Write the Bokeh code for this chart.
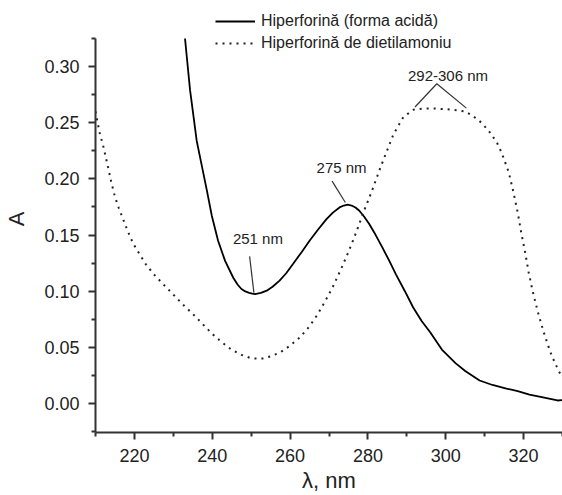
from bokeh.plotting import figure
from bokeh.models import (Range1d, FixedTicker, NumeralTickFormatter, Legend, LegendItem)
from bokeh.core.properties import value
from bokeh.embed import file_html
from bokeh.resources import INLINE

# ---- data ----
acid_x = [233.0, 234.3, 236.0, 237.3, 238.6, 239.9, 241.5, 243.3, 245.4, 246.5, 247.5, 248.5,
          249.5, 250.3, 251.0, 252.5, 254.0, 255.5, 257.3, 259.0, 260.7, 263.0, 265.0, 267.2,
          269.3, 271.0, 272.7, 273.8, 274.8, 275.8, 276.8, 277.8, 279.0, 280.3, 282.0, 283.7,
          285.5, 287.2, 289.5, 291.6, 293.8, 296.0, 299.0, 302.5, 305.0, 308.7, 312.0, 315.6,
          318.5, 321.5, 325.0, 328.7, 330.0]
acid_y = [0.325, 0.279, 0.234, 0.212, 0.190, 0.167, 0.145, 0.127, 0.112, 0.106, 0.102, 0.0998,
          0.0985, 0.0978, 0.0975, 0.0985, 0.1005, 0.104, 0.1094, 0.116, 0.124, 0.135, 0.145, 0.155,
          0.164, 0.170, 0.1746, 0.1763, 0.177, 0.1763, 0.1745, 0.1717, 0.1665, 0.160, 0.150, 0.139,
          0.127, 0.115, 0.100, 0.0857, 0.0735, 0.0634, 0.048, 0.036, 0.029, 0.0205, 0.0165, 0.0133,
          0.011, 0.008, 0.0055, 0.0027, 0.003]

salt_x = [210.0, 211.0, 212.0, 213.0, 214.0, 215.0, 216.0, 217.0, 218.0, 219.0, 220.0, 221.5,
          223.0, 225.0, 227.5, 230.0, 232.5, 235.0, 237.5, 240.0, 242.5, 245.0, 247.5, 250.0,
          252.5, 255.0, 257.5, 260.0, 262.5, 265.0, 267.0, 269.0, 271.0, 273.0, 275.0, 277.0,
          279.0, 281.0, 283.2, 286.6, 289.1, 291.7, 294.0, 296.8, 299.5, 302.0, 305.0, 307.0,
          309.3, 311.5, 313.2, 314.4, 316.2, 317.4, 318.5, 319.4, 320.4, 321.3, 322.4, 323.7,
          325.1, 326.8, 327.9, 329.1, 330.0]
salt_y = [0.260, 0.242, 0.229, 0.214, 0.198, 0.184, 0.174, 0.165, 0.156, 0.1475, 0.1406, 0.132,
          0.1237, 0.115, 0.1059, 0.097, 0.088, 0.0798, 0.0709, 0.062, 0.0545, 0.0478, 0.0433, 0.0403,
          0.0398, 0.042, 0.0456, 0.0515, 0.0588, 0.0688, 0.079, 0.091, 0.104, 0.119, 0.135, 0.1525,
          0.1715, 0.189, 0.210, 0.240, 0.255, 0.2616, 0.2625, 0.2627, 0.2622, 0.2616, 0.2600, 0.256,
          0.2497, 0.2408, 0.232, 0.223, 0.2058, 0.188, 0.170, 0.152, 0.1346, 0.1168, 0.099, 0.0812,
          0.0643, 0.0465, 0.0374, 0.0285, 0.023]

series_names = ["Hiperforină (forma acidă)", "Hiperforină de dietilamoniu"]

x_major = [220, 240, 260, 280, 300, 320]
x_minor = [210, 230, 250, 270, 290, 310, 330]
y_major = [0.00, 0.05, 0.10, 0.15, 0.20, 0.25, 0.30]
y_minor = [-0.025, 0.025, 0.075, 0.125, 0.175, 0.225, 0.275, 0.325]
y_axis_top = 0.325

# annotations: label text, text anchor (x, y), leader line points
ann_text = ["251 nm", "275 nm", "292-306 nm"]
ann_tx = [245.3, 266.8, 290.3]
ann_ty = [0.147, 0.210, 0.2918]
lead_xs = [[249.6, 250.7], [270.8, 274.2], [292.1, 297.7, 305.3]]
lead_ys = [[0.131, 0.0988], [0.198, 0.179], [0.264, 0.2847, 0.263]]

FONT = "Liberation Sans"
AX = "#333333"

p = figure(width=562, height=495, output_backend="svg", toolbar_location=None,
           x_range=Range1d(210, 330), y_range=Range1d(-0.0258, 0.3544),
           min_border_left=95, min_border_right=0, min_border_top=5, min_border_bottom=63)
p.outline_line_color = None
p.grid.visible = False
p.background_fill_color = "white"

r1 = p.line(acid_x, acid_y, line_color="black", line_width=1.8)
r2 = p.line(salt_x, salt_y, line_color="#222222", line_width=2, line_dash="2 5")

p.multi_line(lead_xs, lead_ys, line_color=AX, line_width=1.2)
p.text(x=ann_tx, y=ann_ty, text=ann_text, text_font=value(FONT), text_font_size="15px",
       text_baseline="middle", text_align="left", text_color="#222222")

p.xaxis.ticker = FixedTicker(ticks=x_major, minor_ticks=x_minor)
p.yaxis.ticker = FixedTicker(ticks=y_major, minor_ticks=y_minor)
p.yaxis.formatter = NumeralTickFormatter(format="0.00")
p.yaxis.bounds = (-0.0258, y_axis_top)

for ax in (p.xaxis[0], p.yaxis[0]):
    ax.axis_line_color = AX
    ax.axis_line_width = 2
    ax.major_tick_line_color = AX
    ax.major_tick_line_width = 2
    ax.minor_tick_line_color = AX
    ax.minor_tick_line_width = 2
    ax.major_tick_in = 0
    ax.major_tick_out = 7
    ax.minor_tick_in = 0
    ax.minor_tick_out = 4
    ax.major_label_text_font = FONT
    ax.major_label_text_font_size = "18px"
    ax.major_label_text_color = "#222222"
    ax.axis_label_text_font = FONT
    ax.axis_label_text_font_style = "normal"
    ax.axis_label_text_font_size = "22px"
    ax.axis_label_text_color = "#222222"

p.xaxis.axis_label = "λ, nm"
p.yaxis.axis_label = "A"
p.xaxis.major_label_standoff = 9
p.xaxis.axis_label_standoff = 3
p.yaxis.major_label_standoff = 9
p.yaxis.axis_label_standoff = 12

legend = Legend(items=[LegendItem(label=series_names[0], renderers=[r1]),
                       LegendItem(label=series_names[1], renderers=[r2])],
                location=(120, 379), padding=0, margin=0, spacing=2,
                glyph_width=40, glyph_height=20, label_height=20, label_standoff=6,
                label_text_font=FONT, label_text_font_size="16px", label_text_color="#222222",
                border_line_color=None, background_fill_alpha=0)
p.add_layout(legend, "center")

open("out.html", "w").write(file_html(p, INLINE))
